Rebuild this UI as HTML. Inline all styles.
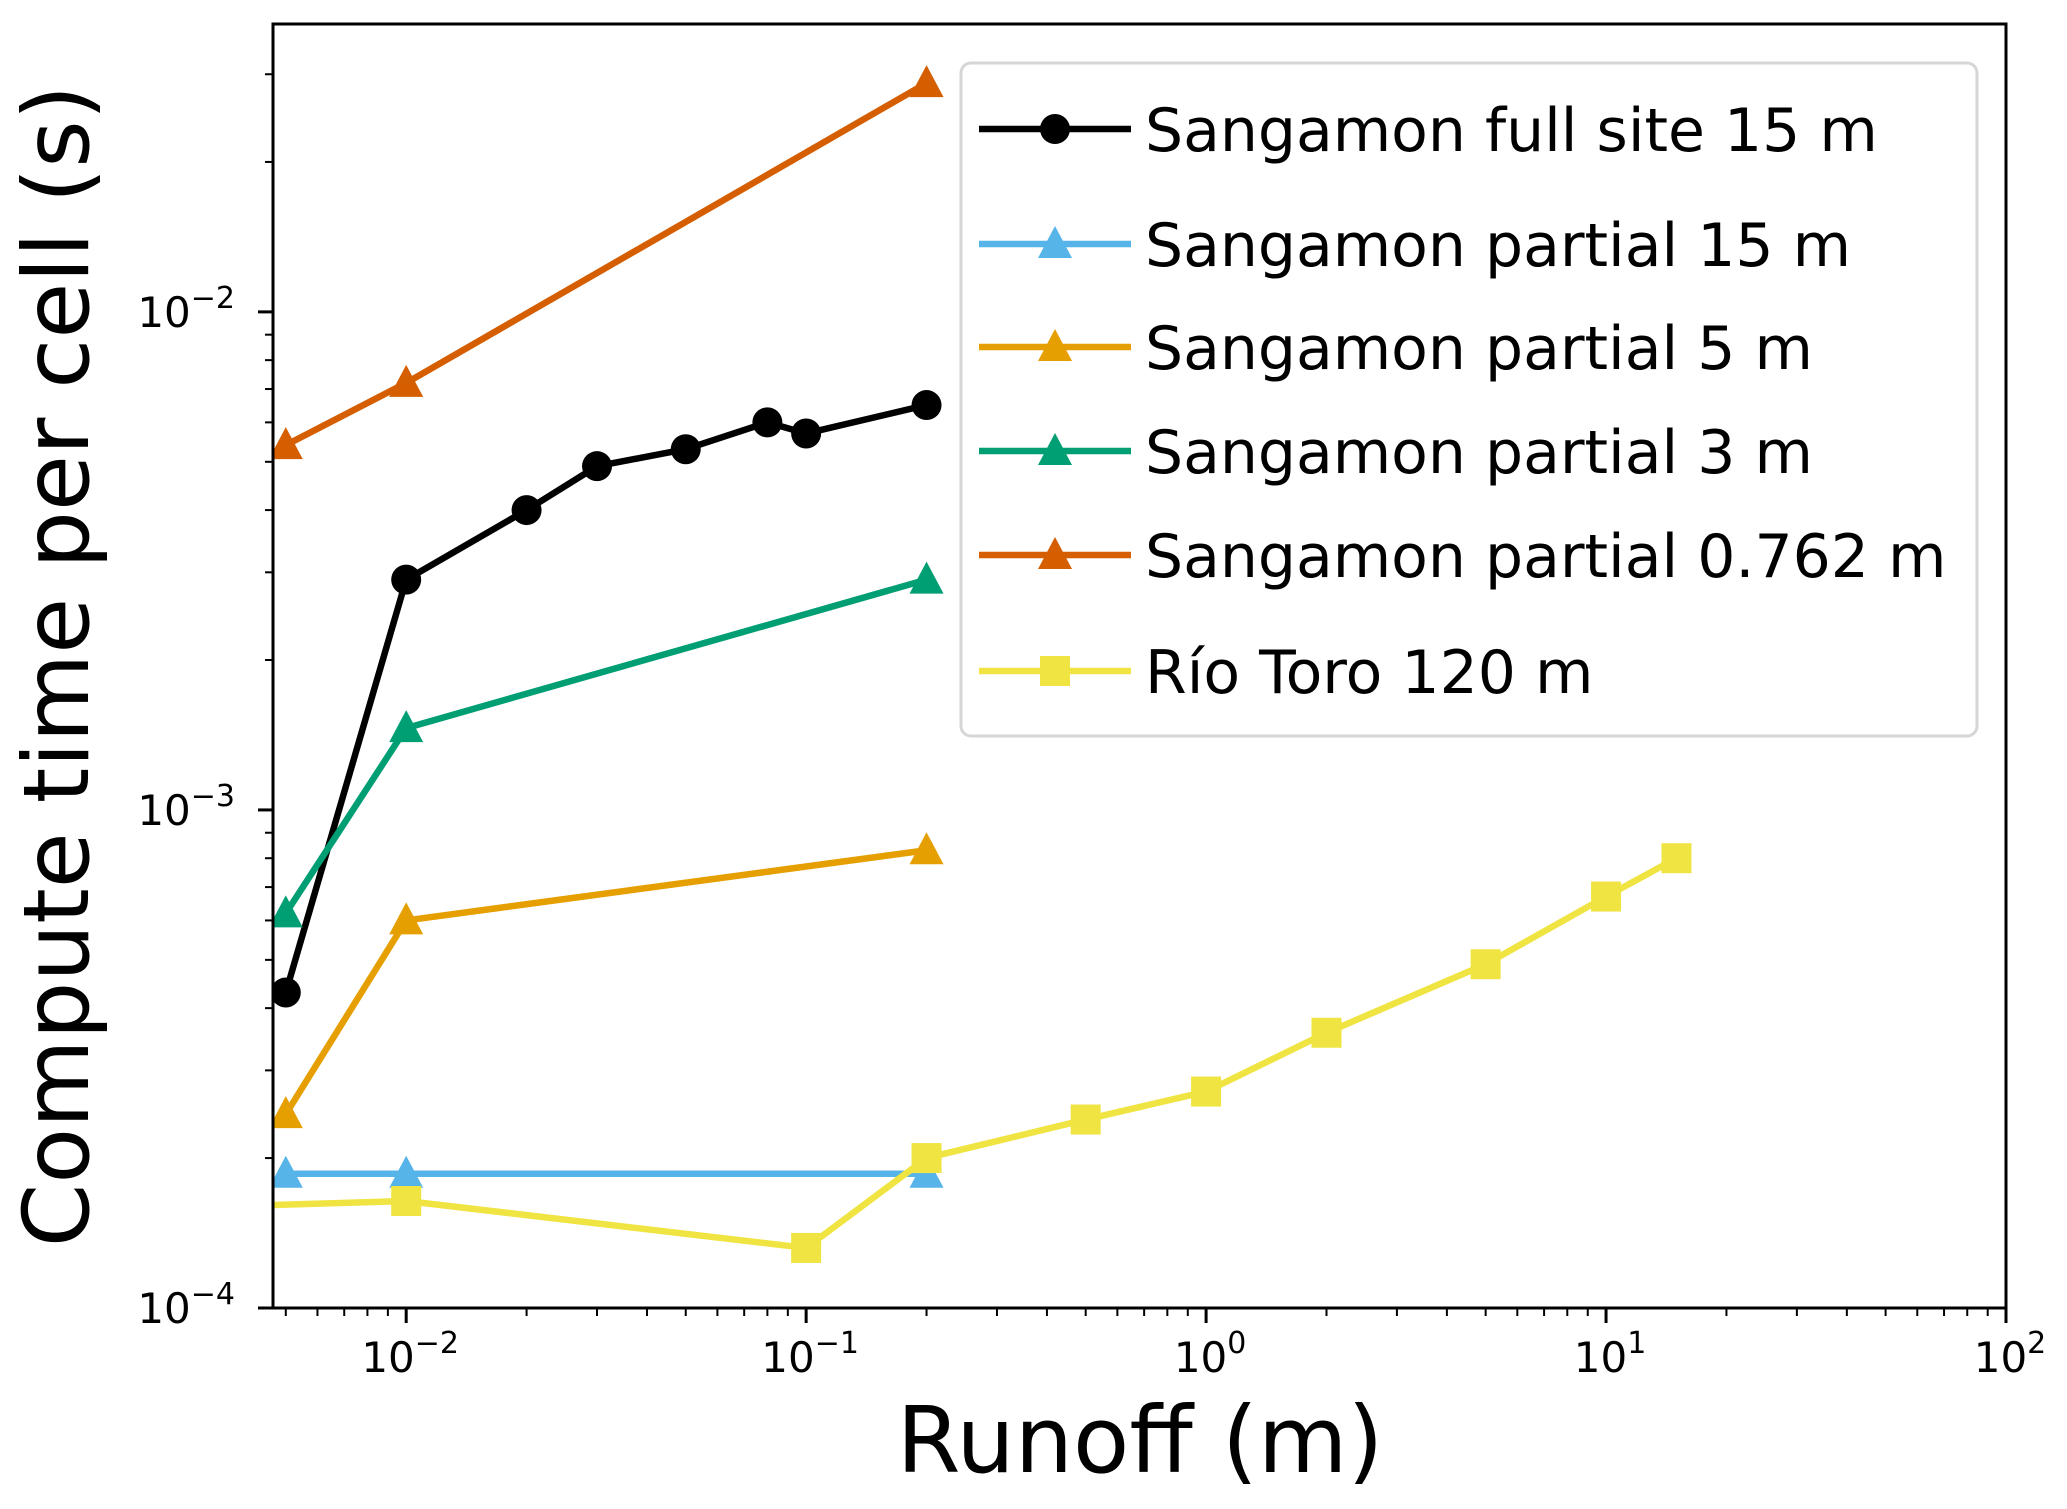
<!DOCTYPE html>
<html><head><meta charset="utf-8"><style>
html,body{margin:0;padding:0;background:#fff;}
svg{display:block;font-family:"DejaVu Sans","Liberation Sans",sans-serif;}
</style></head><body>
<svg id="chart" width="2067" height="1509" viewBox="0 0 2067 1509">
<defs><clipPath id="plotclip"><rect x="273" y="24" width="1733" height="1284"/></clipPath></defs>
<g id="grid-ticks"></g>
<g id="series" clip-path="url(#plotclip)"></g>
<rect x="273" y="24" width="1733" height="1284" fill="none" stroke="#000" stroke-width="3"/>
<text x="1140" y="1472" font-size="92" text-anchor="middle">Runoff (m)</text>
<text transform="translate(88,666) rotate(-90)" font-size="91" text-anchor="middle">Compute time per cell (s)</text>
<g id="legend"></g>
</svg>
<script>
const xTickExps = [-2, -1, 0, 1, 2];
const yTickExps = [-4, -3, -2];
const fullX = [0.005, 0.01, 0.02, 0.03, 0.05, 0.08, 0.1, 0.2];
const fullY = [4.3e-4, 2.9e-3, 4.0e-3, 4.9e-3, 5.3e-3, 6.0e-3, 5.7e-3, 6.5e-3];
const partX = [0.005, 0.01, 0.2];
const p15Y = [1.86e-4, 1.86e-4, 1.86e-4];
const p5Y = [2.45e-4, 6.0e-4, 8.3e-4];
const p3Y = [6.2e-4, 1.46e-3, 2.9e-3];
const p0762Y = [5.4e-3, 7.2e-3, 2.88e-2];
const rioX = [0.001, 0.01, 0.1, 0.2, 0.5, 1, 2, 5, 10, 15];
const rioY = [1.55e-4, 1.64e-4, 1.32e-4, 2.0e-4, 2.39e-4, 2.72e-4, 3.57e-4, 4.9e-4, 6.7e-4, 8.0e-4];
const seriesNames = ["Sangamon full site 15 m","Sangamon partial 15 m","Sangamon partial 5 m","Sangamon partial 3 m","Sangamon partial 0.762 m","Río Toro 120 m"];

const NS = "http://www.w3.org/2000/svg";
const X0 = 273, X1 = 2006, Y0 = 1308, Y1 = 24;
const xLmin = -2.333, xLmax = 2;
const yLmin = -4, yLmax = -1.422;
function xs(v){ return X0 + (Math.log10(v) - xLmin) / (xLmax - xLmin) * (X1 - X0); }
function ys(v){ return Y0 - (Math.log10(v) - yLmin) / (yLmax - yLmin) * (Y0 - Y1); }
function mk(tag, attrs, parent){ const e = document.createElementNS(NS, tag); for (const k in attrs) e.setAttribute(k, attrs[k]); parent.appendChild(e); return e; }

const gt = document.getElementById('grid-ticks');
for (let d = -3; d <= 2; d++) {
  for (let m = 1; m <= 9; m++) {
    const v = m * Math.pow(10, d);
    const lv = Math.log10(v);
    if (lv < xLmin - 1e-9 || lv > xLmax + 1e-9) continue;
    const x = xs(v);
    const major = m === 1;
    const t = mk('line', {x1:x, x2:x, y1:Y0, y2:Y0 + (major ? 15 : 8), stroke:'#000', 'stroke-width': major ? 3 : 2}, gt);
    
    
  }
}
xTickExps.forEach(function(e){
  const x = xs(Math.pow(10, e));
  const t = mk('text', {x: x + 4, y: 1372, 'font-size': 42, 'text-anchor': 'middle'}, gt);
  
  
  t.innerHTML = '10<tspan dy="-19" font-size="30">' + (e < 0 ? '\u2212' : '') + Math.abs(e) + '</tspan>';
});
for (let d = -4; d <= -2; d++) {
  for (let m = 1; m <= 9; m++) {
    const v = m * Math.pow(10, d);
    const lv = Math.log10(v);
    if (lv < yLmin - 1e-9 || lv > yLmax + 1e-9) continue;
    const y = ys(v);
    const major = m === 1;
    const t = mk('line', {x1:X0 - (major ? 15 : 8), x2:X0, y1:y, y2:y, stroke:'#000', 'stroke-width': major ? 3 : 2}, gt);
    
    
  }
}
yTickExps.forEach(function(e){
  const y = ys(Math.pow(10, e));
  const t = mk('text', {x: 235, y: y + 15, 'font-size': 42, 'text-anchor': 'end'}, gt);
  
  
  t.innerHTML = '10<tspan dy="-19" font-size="30">\u2212' + Math.abs(e) + '</tspan>';
});

function marker(g, type, x, y, color){
  let m;
  if (type === 'circle') m = mk('circle', {cx:x, cy:y, r:15, fill:color}, g);
  else if (type === 'tri') m = mk('polygon', {points:(x)+','+(y-18)+' '+(x-17)+','+(y+14)+' '+(x+17)+','+(y+14), fill:color}, g);
  else m = mk('rect', {x:x-15, y:y-15, width:30, height:30, fill:color}, g);
  return m;
}
const series = [
  {name:'full-site-15m', x:fullX, y:fullY, color:'#000000', m:'circle'},
  {name:'partial-15m', x:partX, y:p15Y, color:'#56B4E9', m:'tri'},
  {name:'partial-5m', x:partX, y:p5Y, color:'#E69F00', m:'tri'},
  {name:'partial-3m', x:partX, y:p3Y, color:'#009E73', m:'tri'},
  {name:'partial-0762m', x:partX, y:p0762Y, color:'#D55E00', m:'tri'},
  {name:'rio-toro-120m', x:rioX, y:rioY, color:'#F0E442', m:'sq'}
];
const sg = document.getElementById('series');
series.forEach(function(s){
  const g = mk('g', {}, sg);
  
  
  const pts = s.x.map(function(v,i){ return xs(v) + ',' + ys(s.y[i]); }).join(' ');
  const pl = mk('polyline', {points: pts, fill:'none', stroke:s.color, 'stroke-width':6.5, 'stroke-linejoin':'round'}, g);
  
  
  s.x.forEach(function(v,i){
    const m = marker(g, s.m, xs(v), ys(s.y[i]), s.color);
    
    
  });
});

const lg = document.getElementById('legend');


const box = mk('rect', {x:961, y:63, width:1016, height:673, rx:10, fill:'#fff', 'fill-opacity':0.85, stroke:'#d6d6d6', 'stroke-width':3}, lg);


const legendY = [129, 244, 347, 451, 555, 671];
series.forEach(function(s, i){
  const y = legendY[i];
  const g = mk('g', {}, lg);
  
  
  mk('line', {x1:979, x2:1131, y1:y, y2:y, stroke:s.color, 'stroke-width':6.5}, g);
  marker(g, s.m, 1055, y, s.color);
  const t = mk('text', {x:1145, y:y + 22, 'font-size':60}, g);
  
  
  t.textContent = seriesNames[i];
});
</script>
</body></html>
